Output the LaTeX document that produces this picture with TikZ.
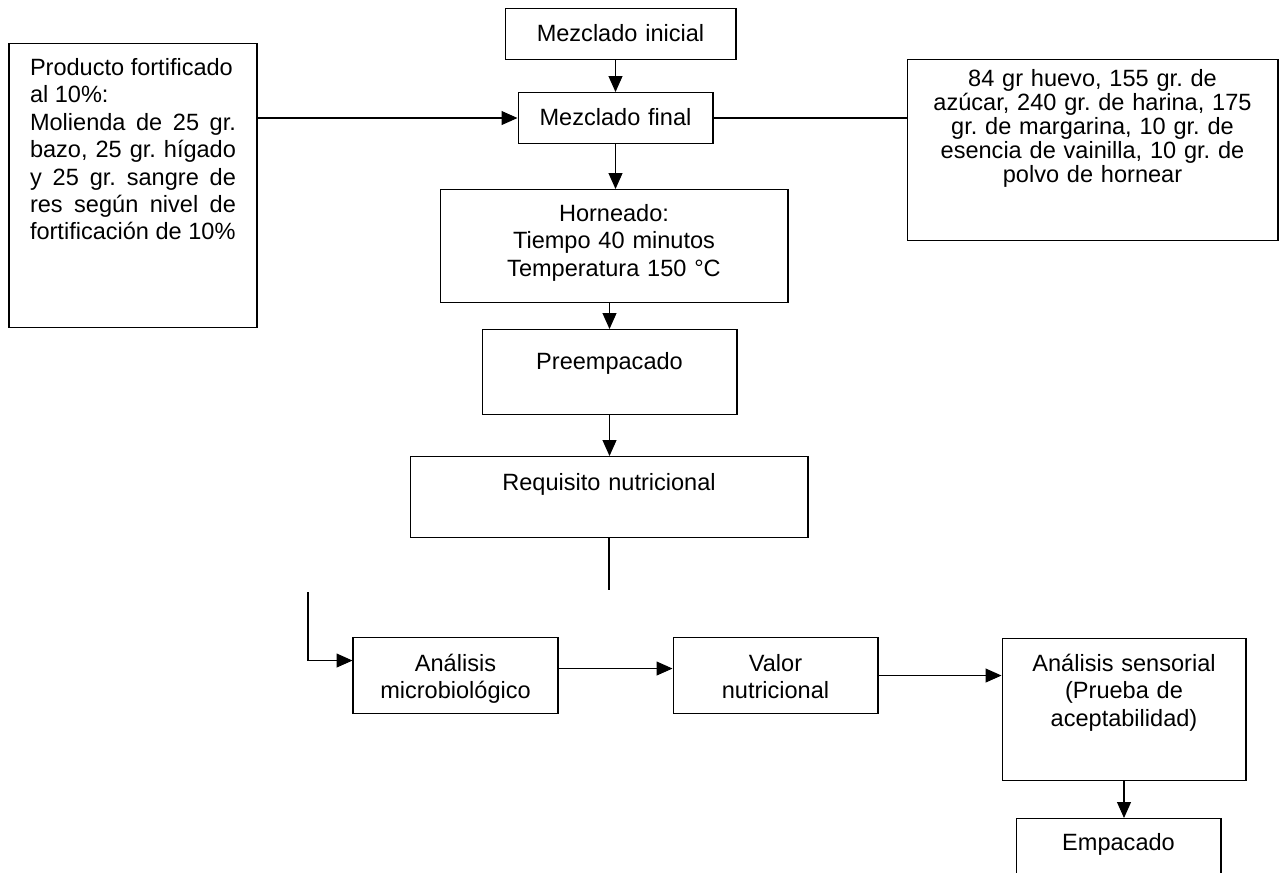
\documentclass[tikz,border=0pt]{standalone}
\usepackage{fontspec}
\setmainfont{Liberation Sans}
\usetikzlibrary{arrows.meta}
\frenchspacing

\begin{document}
\begin{tikzpicture}[x=0.02cm, y=-0.02cm,
	box/.style={draw, line width=0.6pt, inner sep=0pt, anchor=north, align=center,
		font=\fontsize{13.4pt}{15.6pt}\selectfont},
	arr/.style={line width=0.6pt, -{Triangle[length=0.32cm, width=0.28cm]}}]
	\clip (0,0) rectangle (1283,872);
	\path (620.5,8) node[box, text width=4.62cm, text height=0.66cm, text depth=0.36cm] (ini){Mezclado inicial}
	(615.5,92) node[box, text width=3.9cm, text height=0.66cm, text depth=0.36cm] (fin){Mezclado final}
	(614,189) node[box, text width=6.96cm, text height=0.64cm, text depth=1.62cm] (horn){Horneado:\\ Tiempo 40 minutos\\ Temperatura 150 °C}
	(609.5,329) node[box, text width=5.1cm, text height=0.8cm, text depth=0.9cm] (pre){Preempacado}
	(609,456) node[box, text width=7.96cm, text height=0.68cm, text depth=0.94cm] (req){Requisito nutricional}
	(133,43) node[box, align=justify, inner xsep=0.42cm, text width=4.12cm, text height=0.64cm, text depth=5.04cm] (prod){Producto fortificado\\ al 10\%:\\ Molienda de 25 gr.\linebreak bazo, 25 gr. hígado\linebreak y 25 gr. sangre de\linebreak res según nivel de\linebreak fortificación de 10\%}
	(1092.5,59) node[box, text width=7.42cm, text height=0.54cm, text depth=3.08cm, font=\fontsize{13.4pt}{13.7pt}\selectfont] (ingr){84 gr huevo, 155 gr. de\\ azúcar, 240 gr. de harina, 175\\ gr. de margarina, 10 gr. de\\ esencia de vainilla, 10 gr. de\\ polvo de hornear}
	(455.5,637) node[box, text width=4.1cm, text height=0.68cm, text depth=0.84cm] (micro){Análisis\\ microbiológico}
	(775.5,637) node[box, text width=4.1cm, text height=0.68cm, text depth=0.84cm] (valor){Valor\\ nutricional}
	(1124,638) node[box, text width=4.88cm, text height=0.66cm, text depth=2.18cm] (sens){Análisis sensorial\\ (Prueba de\\ aceptabilidad)}
	(1118.5,818) node[box, text width=4.1cm, text height=0.64cm, text depth=0.8cm] (emp){Empacado};
	\coordinate (cutA) at (609,590);
	\coordinate (cutB) at (308,592);

	\draw[arr] (ini.south -| fin.north) -- (fin.north);
	\draw[arr] (fin.south) -- (fin.south |- horn.north);
	\draw[arr] (horn.south -| pre.north) -- (pre.north);
	\draw[arr] (pre.south) -- (pre.south |- req.north);
	\draw[line width=0.6pt] (req.south) -- (cutA);
	\draw[arr] (prod.east |- fin.west) -- (fin.west);
	\draw[line width=0.6pt] (fin.east) -- (fin.east -| ingr.west);
	\draw[arr] (cutB) |- ([yshift=0.3cm]micro.west);
	\draw[arr] ([yshift=0.14cm]micro.east) -- ([yshift=0.14cm]valor.west);
	\draw[arr] (valor.east) -- (valor.east -| sens.west);
	\draw[arr] (sens.south) -- (sens.south |- emp.north);
\end{tikzpicture}
\end{document}
